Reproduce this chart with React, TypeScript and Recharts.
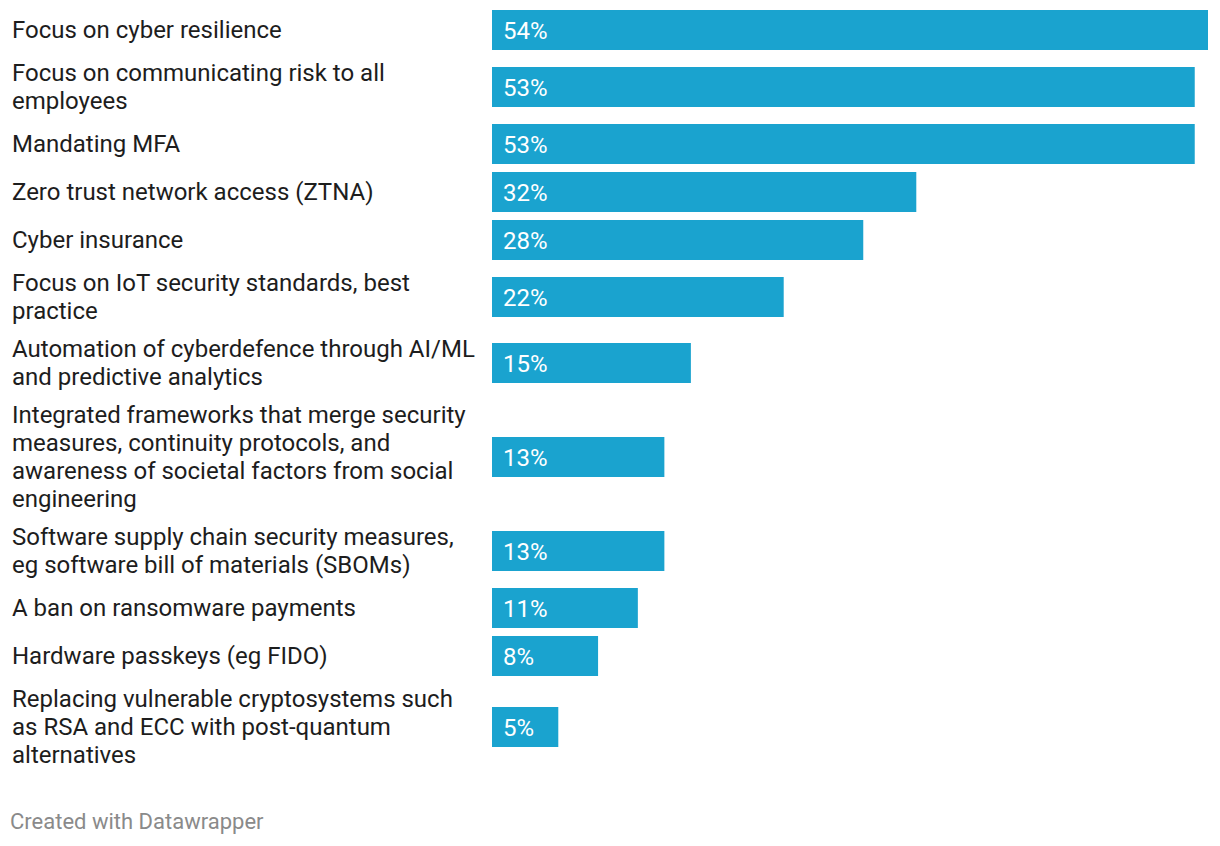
import { BarChart, Bar, XAxis, YAxis, LabelList } from "recharts";

const categories = [
  "Focus on cyber resilience",
  "Focus on communicating risk to all employees",
  "Mandating MFA",
  "Zero trust network access (ZTNA)",
  "Cyber insurance",
  "Focus on IoT security standards, best practice",
  "Automation of cyberdefence through AI/ML and predictive analytics",
  "Integrated frameworks that merge security measures, continuity protocols, and awareness of societal factors from social engineering",
  "Software supply chain security measures, eg software bill of materials (SBOMs)",
  "A ban on ransomware payments",
  "Hardware passkeys (eg FIDO)",
  "Replacing vulnerable cryptosystems such as RSA and ECC with post-quantum alternatives",
];

// wrapped lines of each category label, as shown in the chart
const labelLines = [
  ["Focus on cyber resilience"],
  ["Focus on communicating risk to all", "employees"],
  ["Mandating MFA"],
  ["Zero trust network access (ZTNA)"],
  ["Cyber insurance"],
  ["Focus on IoT security standards, best", "practice"],
  ["Automation of cyberdefence through AI/ML", "and predictive analytics"],
  [
    "Integrated frameworks that merge security",
    "measures, continuity protocols, and",
    "awareness of societal factors from social",
    "engineering",
  ],
  ["Software supply chain security measures,", "eg software bill of materials (SBOMs)"],
  ["A ban on ransomware payments"],
  ["Hardware passkeys (eg FIDO)"],
  ["Replacing vulnerable cryptosystems such", "as RSA and ECC with post-quantum", "alternatives"],
];

const values = [54, 53, 53, 32, 28, 22, 15, 13, 13, 11, 8, 5];

const BAR_COLOR = "#1aa3cf";
const FONT = "Roboto, 'Noto Sans', sans-serif";
const LINE_H = 28;

function LabelTick(props: any) {
  const { y, payload } = props;
  const idx = categories.indexOf(payload.value);
  const lines = labelLines[idx] ?? [payload.value];
  const startY = y - ((lines.length - 1) * LINE_H) / 2;
  return (
    <text
      x={12}
      y={startY}
      fill="#1d1d1d"
      fontSize={24}
      fontFamily={FONT}
      dominantBaseline="central"
      textAnchor="start"
    >
      {lines.map((l, i) => (
        <tspan key={i} x={12} y={startY + i * LINE_H}>
          {l}
        </tspan>
      ))}
    </text>
  );
}

export default function App() {
  return (
    <div
      style={{
        position: "absolute",
        left: 0,
        top: 0,
        width: 1220,
        height: 846,
        background: "#fff",
      }}
    >
      <div style={{ position: "absolute", left: 0, top: 6 }}>
        {categories.map((cat, i) => {
          const h = Math.max(48, labelLines[i].length * LINE_H + 10);
          return (
            <BarChart
              key={cat}
              width={1220}
              height={h}
              layout="vertical"
              data={[{ category: cat, value: values[i] }]}
              margin={{ top: 0, right: 12, bottom: 0, left: 0 }}
              style={{ display: "block" }}
            >
              <XAxis type="number" domain={[0, 54]} hide />
              <YAxis
                type="category"
                dataKey="category"
                width={492}
                axisLine={false}
                tickLine={false}
                tick={<LabelTick />}
                interval={0}
              />
              <Bar dataKey="value" fill={BAR_COLOR} barSize={40} isAnimationActive={false}>
                <LabelList
                  dataKey="value"
                  position="insideLeft"
                  offset={11}
                  fill="#ffffff"
                  fontSize={24}
                  fontFamily={FONT}
                  formatter={(v: any) => `${v}%`}
                />
              </Bar>
            </BarChart>
          );
        })}
      </div>
      <div
        style={{
          position: "absolute",
          left: 10,
          top: 807,
          fontFamily: FONT,
          fontSize: 22,
          color: "#8a8a8a",
          lineHeight: "30px",
        }}
      >
        Created with Datawrapper
      </div>
    </div>
  );
}
